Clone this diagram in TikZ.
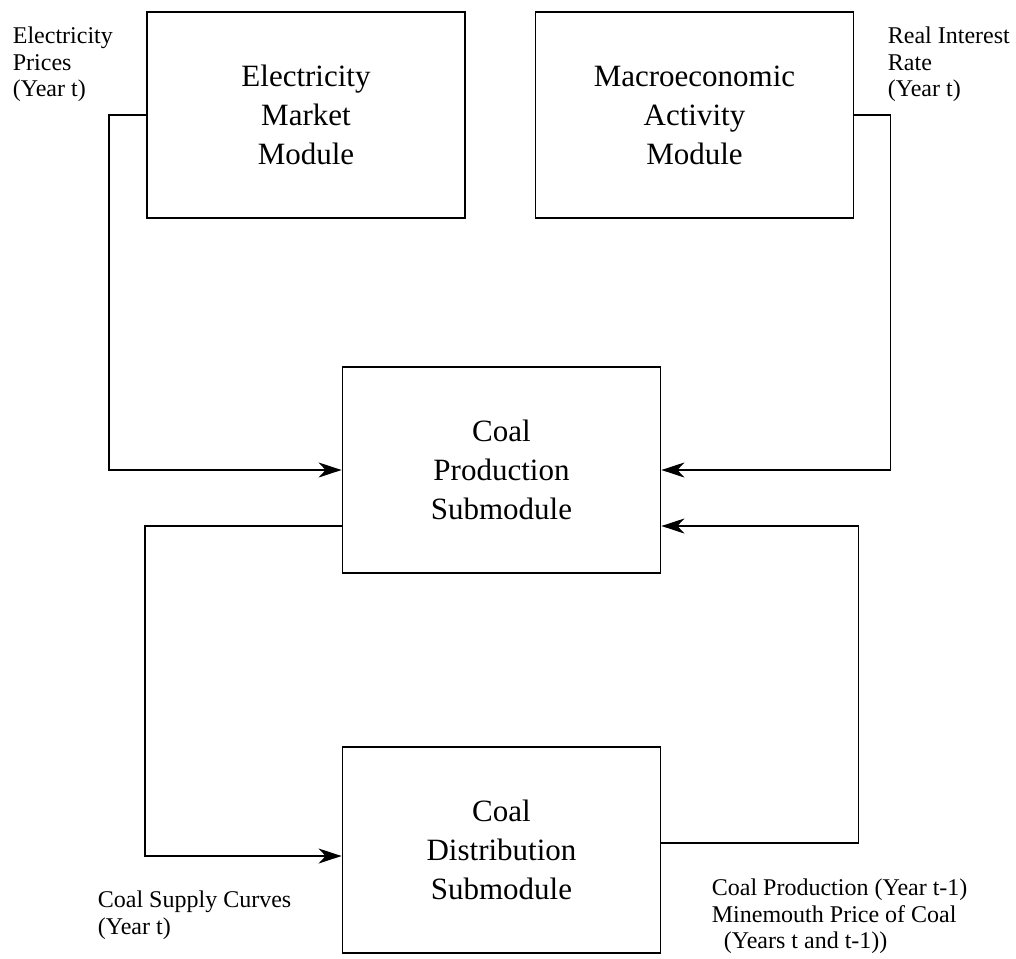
\documentclass[tikz,border=0pt]{standalone}
\usepackage{fontspec}
\setmainfont{Liberation Serif}
\usepackage{tikz}
\usetikzlibrary{arrows.meta, positioning}
\usetikzlibrary{calc}

\begin{document}
\begin{tikzpicture}[x=1pt, y=-1pt, line width=1.8pt,
		>={Stealth[length=23pt, width=15pt, inset=7pt]},
		modbox/.style={draw, minimum width=318pt, minimum height=206pt, inner sep=0pt,
			align=center, font=\fontsize{31}{39}\selectfont},
		lbl/.style={anchor=north west, inner sep=0pt, align=left,
			font=\fontsize{24}{26.5}\selectfont}]
		\useasboundingbox (0,0) rectangle (1016,958);
		\draw (306,115) node[modbox] (emm) {Electricity\\Market\\Module}
		(694.5,115) node[modbox] (mam) {Macroeconomic\\Activity\\Module}
		(501.5,470) node[modbox] (cps) {Coal\\Production\\Submodule}
		(501.5,850) node[modbox] (cds) {Coal\\Distribution\\Submodule};
		
		\node[lbl] (elprice) at (12,26) {Electricity\\Prices\\(Year t)};
		\node[lbl] (rate) at (887,26) {Real Interest\\Rate\\(Year t)};
		\node[lbl] (supply) at (97,890) {Coal Supply Curves\\(Year t)};
		\node[lbl] (minemouth) at (711,878) {Coal Production (Year t-1)\\Minemouth Price of Coal\\\hspace*{12pt}(Years t and t-1))};
		
		\draw[->] (emm.west) -- ++(-37,0) |- (cps.west);
		\draw[->] (mam.east) -- ++(36,0) |- (cps.east);
		\draw[->] ([yshift=-56pt]cps.west) -- ++(-197,0) |- ([yshift=-6pt]cds.west);
		\draw[->] ([yshift=7pt]cds.east) -- ++(197,0) |- ([yshift=-56pt]cps.east);
	\end{tikzpicture}
\end{document}
